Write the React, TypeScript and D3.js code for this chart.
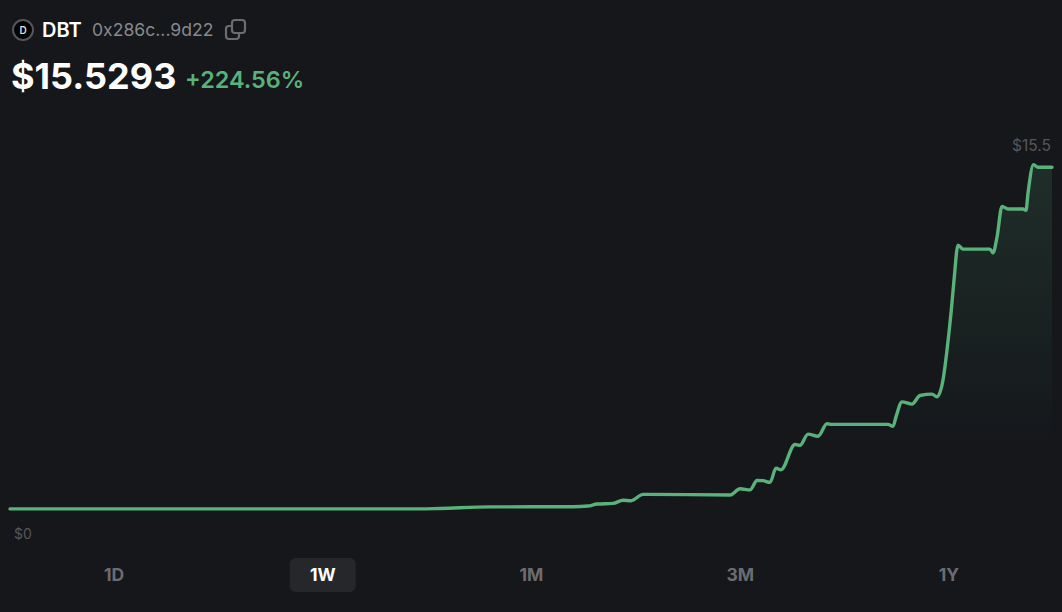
import React, { useEffect } from "react";
import * as d3 from "d3";

const width = 1062;
const height = 612;

// elapsed time along the range, price in dollars
const elapsed = [
  0, 410, 430, 480, 563, 578, 587, 603, 613, 621, 633, 638, 720, 730, 740, 747,
  753, 760, 766, 771, 785, 790, 798, 808, 817, 822, 878, 883, 886, 892, 902,
  910, 922, 927, 933, 937, 941, 944, 948, 953, 980, 983, 987, 992, 998, 1013,
  1016, 1018, 1023.5, 1028, 1042
];
const prices = [
  0.05, 0.05, 0.07, 0.14, 0.15, 0.18, 0.27, 0.3, 0.44, 0.42, 0.71, 0.71, 0.68,
  0.96, 0.91, 1.34, 1.33, 1.25, 1.89, 1.82, 2.97, 2.93, 3.44, 3.34, 3.91, 3.88,
  3.88, 3.79, 4.22, 4.9, 4.8, 5.19, 5.25, 5.13, 5.89, 7.24, 8.92, 10.41, 12.0,
  11.82, 11.82, 11.65, 12.36, 13.76, 13.64, 13.64, 13.58, 14.35, 15.65, 15.53,
  15.53
];
const ranges = ["1D", "1W", "1M", "3M", "1Y"];
const activeRange = "1W";
const yTicks = [0, 15.5];

const bg = "#15171b";
const green = "#58b27a";

type Point = { t: number; price: number };
const series: Point[] = elapsed.map((t, i) => ({ t, price: prices[i] }));

const draw = (svg: d3.Selection<SVGSVGElement, any, null, undefined>) => {
  const x = d3.scaleLinear().domain([0, 1042]).range([10, 1052]);
  const y = d3.scaleLinear().domain([0, 15.53]).range([510, 167.3]);
  const band = d3.scalePoint<string>().domain(ranges).range([114, 949]);

  svg.append("rect").attr("width", width).attr("height", height).attr("fill", bg);

  const grad = svg
    .append("defs")
    .append("linearGradient")
    .attr("id", "fade")
    .attr("gradientUnits", "userSpaceOnUse")
    .attr("x1", 0)
    .attr("x2", 0)
    .attr("y1", y(15.65))
    .attr("y2", 445);
  grad.append("stop").attr("offset", 0).attr("stop-color", green).attr("stop-opacity", 0.15);
  grad.append("stop").attr("offset", 1).attr("stop-color", green).attr("stop-opacity", 0);

  const area = d3
    .area<Point>()
    .x((d) => x(d.t))
    .y0(y(0))
    .y1((d) => y(d.price))
    .curve(d3.curveMonotoneX);
  svg.append("path").datum(series).attr("d", area).attr("fill", "url(#fade)");

  const line = d3
    .line<Point>()
    .x((d) => x(d.t))
    .y((d) => y(d.price))
    .curve(d3.curveMonotoneX);
  svg
    .append("path")
    .datum(series)
    .attr("d", line)
    .attr("fill", "none")
    .attr("stroke", green)
    .attr("stroke-width", 3.4)
    .attr("stroke-linecap", "round")
    .attr("stroke-linejoin", "round");

  // y labels, the only two the chart shows
  svg
    .selectAll("text.ytick")
    .data(yTicks)
    .join("text")
    .attr("class", "ytick")
    .text((d) => `$${d}`)
    .attr("x", (d) => (d === 0 ? 14 : 1051))
    .attr("y", (d) => (d === 0 ? 539 : 151))
    .attr("text-anchor", (d) => (d === 0 ? "start" : "end"))
    .attr("font-size", (d) => (d === 0 ? 14 : 15.5))
    .attr("fill", "#55565a");

  svg
    .append("rect")
    .attr("x", (band(activeRange) as number) - 33)
    .attr("y", 558)
    .attr("width", 66)
    .attr("height", 34)
    .attr("rx", 6)
    .attr("fill", "#26272b");

  svg
    .selectAll("text.range")
    .data(ranges)
    .join("text")
    .attr("class", "range")
    .text((d) => d)
    .attr("x", (d) => band(d) as number)
    .attr("y", 581)
    .attr("text-anchor", "middle")
    .attr("font-size", 17.5)
    .attr("font-weight", 700)
    .attr("fill", (d) => (d === activeRange ? "#ffffff" : "#6b6c70"));
};

const App = () => {
  const ref = React.useRef<SVGSVGElement>(null);

  useEffect(() => {
    if (!ref.current) return;
    const node = d3.select(ref.current);
    node.selectAll("*").remove();
    draw(node);
  }, [ref]);

  return (
    <div style={{ position: "absolute", left: 0, top: 0, width, height, background: bg, overflow: "hidden" }}>
      <svg
        ref={ref}
        width={width}
        height={height}
        fontFamily="Inter, 'Noto Sans', sans-serif"
        style={{ position: "absolute", left: 0, top: 0 }}
      />
      <svg
        width={width}
        height={120}
        fontFamily="Inter, 'Noto Sans', sans-serif"
        style={{ position: "absolute", left: 0, top: 0 }}
      >
        <circle cx={23} cy={30} r={10} fill="#000" stroke="#55565a" strokeWidth={2} />
        <text x={23} y={34} textAnchor="middle" fontSize={10} fontWeight={600} fill="#ddd">D</text>
        <text x={42} y={37} fontSize={20} fontWeight={600} fill="#fff">DBT</text>
        <text x={92} y={36} fontSize={17.6} fill="#88898d">0x286c...9d22</text>
        <g fill="none" stroke="#6b6c70" strokeWidth={2.2}>
          <rect x={232} y={20} width={13} height={13} rx={3} />
          <path d="M232 26h-3a3 3 0 0 0 -3 3v7a3 3 0 0 0 3 3h7a3 3 0 0 0 3 -3v-3" />
        </g>
        <text x={11} y={89} fontSize={36} fontWeight={700} fill="#fff">$15.5293</text>
        <text x={185} y={88} fontSize={23.4} fontWeight={600} fill={green}>+224.56%</text>
      </svg>
    </div>
  );
};

export default App;
